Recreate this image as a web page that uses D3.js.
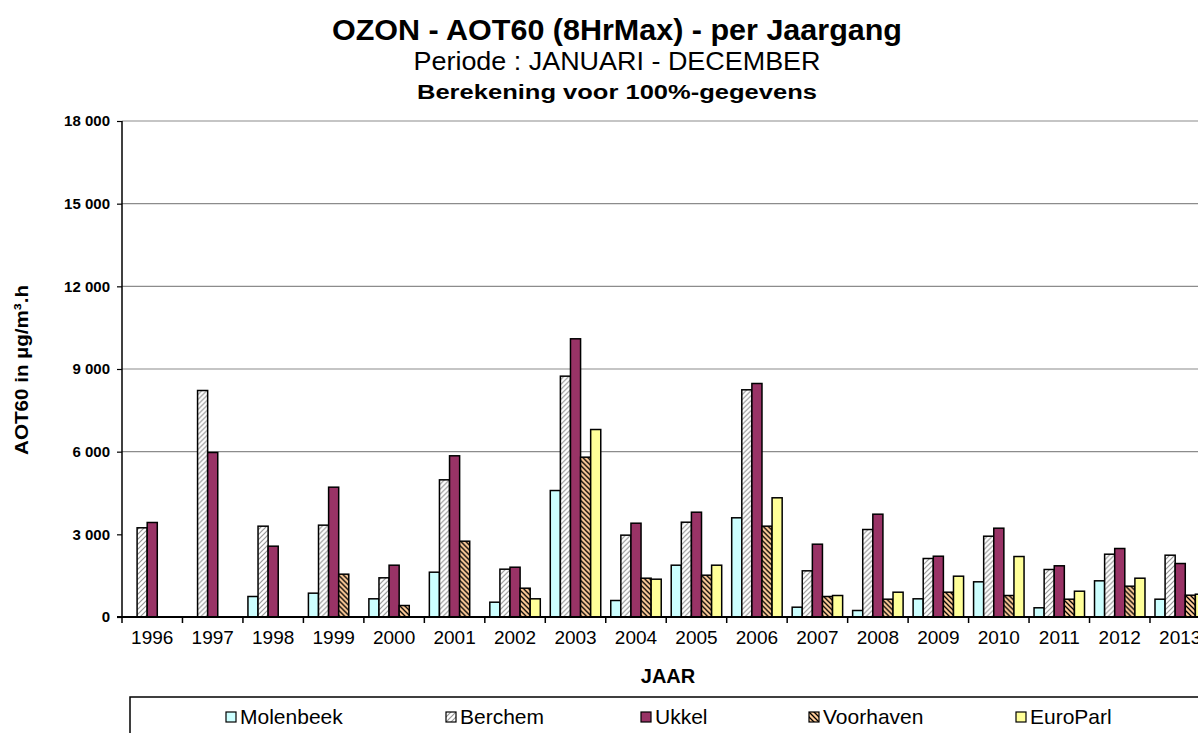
<!DOCTYPE html>
<html>
<head>
<meta charset="utf-8">
<title>OZON - AOT60</title>
<script src="https://cdn.jsdelivr.net/npm/d3@7"></script>
<style>
  body { margin: 0; background: #fff; }
  svg { display: block; font-family: "Liberation Sans", Arial, sans-serif; }
</style>
</head>
<body>
<div id="chart"></div>
<script>
var years = ["1996","1997","1998","1999","2000","2001","2002","2003","2004","2005","2006","2007","2008","2009","2010","2011","2012","2013"];
var stations = ["Molenbeek","Berchem","Ukkel","Voorhaven","EuroParl"];

var molenbeek = [null, null, 744, 865, 660, 1626, 537, 4590, 599, 1880, 3600, 356, 236, 660, 1277, 334, 1313, 646];
var berchem   = [3237, 8220, 3296, 3333, 1422, 4978, 1735, 8740, 2970, 3440, 8245, 1676, 3175, 2123, 2932, 1724, 2279, 2243];
var ukkel     = [3430, 5970, 2570, 4711, 1880, 5850, 1807, 10096, 3404, 3803, 8474, 2642, 3731, 2206, 3223, 1858, 2486, 1941];
var voorhaven = [null, null, null, 1554, 417, 2751, 1045, 5800, 1408, 1517, 3296, 744, 646, 900, 780, 646, 1118, 791];
var europarl  = [null, null, null, null, null, null, 660, 6804, 1372, 1880, 4326, 780, 900, 1481, 2195, 936, 1408, 827];

var yTicks = [0, 3000, 6000, 9000, 12000, 15000, 18000];

(function () {
    var seriesValues = [molenbeek, berchem, ukkel, voorhaven, europarl];
    var fills = ["#ccffff", "url(#hatchBerchem)", "#993366", "url(#hatchVoor)", "#ffff99"];

    var W = 1198, H = 733;
    var plotLeft = 122, plotBottom = 617, plotTop = 121, step = 60.47;

    var svg = d3.select("#chart").append("svg").attr("width", W).attr("height", H);

    var defs = svg.append("defs");
    var p1 = defs.append("pattern").attr("id", "hatchBerchem").attr("patternUnits", "userSpaceOnUse")
        .attr("width", 5).attr("height", 5);
    p1.append("rect").attr("width", 5).attr("height", 5).attr("fill", "#fff");
    p1.append("path").attr("d", "M-1,1 l2,-2 M0,5 l5,-5 M4,6 l2,-2").attr("stroke", "#969696").attr("stroke-width", 1.2);
    var p2 = defs.append("pattern").attr("id", "hatchVoor").attr("patternUnits", "userSpaceOnUse")
        .attr("width", 5).attr("height", 5);
    p2.append("rect").attr("width", 5).attr("height", 5).attr("fill", "#ffcc99");
    p2.append("path").attr("d", "M-1,4 l2,2 M0,0 l5,5 M4,-1 l2,2").attr("stroke", "#000").attr("stroke-width", 1.3);

    var x0 = d3.scaleBand().domain(years).range([plotLeft, plotLeft + step * years.length]).padding(0);
    var x1 = d3.scaleBand().domain(stations).range([5, x0.bandwidth() - 5]).padding(0);
    var y = d3.scaleLinear().domain([0, 18000]).range([plotBottom, plotTop]);

    // gridlines (the picture shows none at 3 000)
    svg.append("g").selectAll("line").data(yTicks.filter(function (d) { return d >= 6000; }))
        .enter().append("line")
        .attr("x1", plotLeft).attr("x2", W)
        .attr("y1", function (d) { return y(d); }).attr("y2", function (d) { return y(d); })
        .attr("stroke", "#8c8c8c").attr("stroke-width", 1.2);

    // bars
    var groups = svg.append("g").selectAll("g").data(years).enter().append("g")
        .attr("transform", function (d) { return "translate(" + x0(d) + ",0)"; });
    groups.selectAll("rect").data(function (d, i) {
            return stations.map(function (s, k) { return { s: s, k: k, v: seriesValues[k][i] }; })
                .filter(function (e) { return e.v != null; });
        })
        .enter().append("rect")
        .attr("x", function (d) { return x1(d.s); })
        .attr("width", x1.bandwidth())
        .attr("y", function (d) { return y(d.v); })
        .attr("height", function (d) { return plotBottom - y(d.v); })
        .attr("fill", function (d) { return fills[d.k]; })
        .attr("stroke", "#000").attr("stroke-width", 1.5);

    // y axis
    var yAxis = d3.axisLeft(y).tickValues(yTicks).tickSize(5).tickPadding(7)
        .tickFormat(function (d) { return d3.format(",")(d).replace(/,/g, " "); });
    var gy = svg.append("g").attr("transform", "translate(" + plotLeft + ",0)").call(yAxis);
    gy.select(".domain").remove();
    gy.append("line").attr("x1", 0).attr("x2", 0).attr("y1", plotTop).attr("y2", plotBottom + 6)
        .attr("stroke", "#000").attr("stroke-width", 1.5);
    gy.selectAll(".tick line").attr("stroke", "#000").attr("stroke-width", 1.2);
    gy.selectAll(".tick text").attr("font-size", 15).attr("font-weight", "bold").attr("fill", "#000")
        .attr("font-family", "'Liberation Sans', Arial, sans-serif");

    // x axis
    var gx = svg.append("g").attr("transform", "translate(0," + plotBottom + ")");
    gx.append("line").attr("x1", plotLeft - 5).attr("x2", W).attr("y1", 0).attr("y2", 0)
        .attr("stroke", "#000").attr("stroke-width", 2);
    gx.selectAll("line.tk").data(years).enter().append("line").attr("class", "tk")
        .attr("x1", function (d) { return x0(d) + step; }).attr("x2", function (d) { return x0(d) + step; })
        .attr("y1", 0).attr("y2", 6).attr("stroke", "#000").attr("stroke-width", 1.5);
    gx.selectAll("text").data(years).enter().append("text")
        .attr("x", function (d) { return x0(d) + step / 2; })
        .attr("y", 27).attr("text-anchor", "middle").attr("font-size", 19).attr("fill", "#000")
        .text(function (d) { return d; });

    // titles
    svg.append("text").attr("x", 617).attr("y", 40).attr("text-anchor", "middle")
        .attr("font-size", 29).attr("font-weight", "bold")
        .attr("textLength", 570).attr("lengthAdjust", "spacingAndGlyphs")
        .text("OZON - AOT60 (8HrMax) - per Jaargang");
    svg.append("text").attr("x", 617).attr("y", 70).attr("text-anchor", "middle")
        .attr("font-size", 25)
        .attr("textLength", 407).attr("lengthAdjust", "spacingAndGlyphs")
        .text("Periode : JANUARI - DECEMBER");
    svg.append("text").attr("x", 617).attr("y", 99).attr("text-anchor", "middle")
        .attr("font-size", 20).attr("font-weight", "bold")
        .attr("textLength", 400).attr("lengthAdjust", "spacingAndGlyphs")
        .text("Berekening voor 100%-gegevens");

    svg.append("text").attr("transform", "translate(28,370) rotate(-90)").attr("text-anchor", "middle")
        .attr("font-size", 19).attr("font-weight", "bold")
        .attr("textLength", 170).attr("lengthAdjust", "spacingAndGlyphs")
        .text("AOT60 in µg/m³.h");
    svg.append("text").attr("x", 668).attr("y", 683).attr("text-anchor", "middle")
        .attr("font-size", 20).attr("font-weight", "bold").text("JAAR");

    // legend
    svg.append("rect").attr("x", 130).attr("y", 697).attr("width", 1100).attr("height", 60)
        .attr("fill", "#fff").attr("stroke", "#000").attr("stroke-width", 1.5);
    var legendX = [226, 446, 641, 809, 1016];
    var lg = svg.append("g").selectAll("g").data(stations).enter().append("g")
        .attr("transform", function (d, i) { return "translate(" + legendX[i] + ",712)"; });
    lg.append("rect").attr("width", 10).attr("height", 10)
        .attr("fill", function (d, i) { return fills[i]; }).attr("stroke", "#000").attr("stroke-width", 1.2);
    lg.append("text").attr("x", 14).attr("y", 12).attr("font-size", 21).attr("fill", "#000")
        .text(function (d) { return d; });
})();
</script>
</body>
</html>
